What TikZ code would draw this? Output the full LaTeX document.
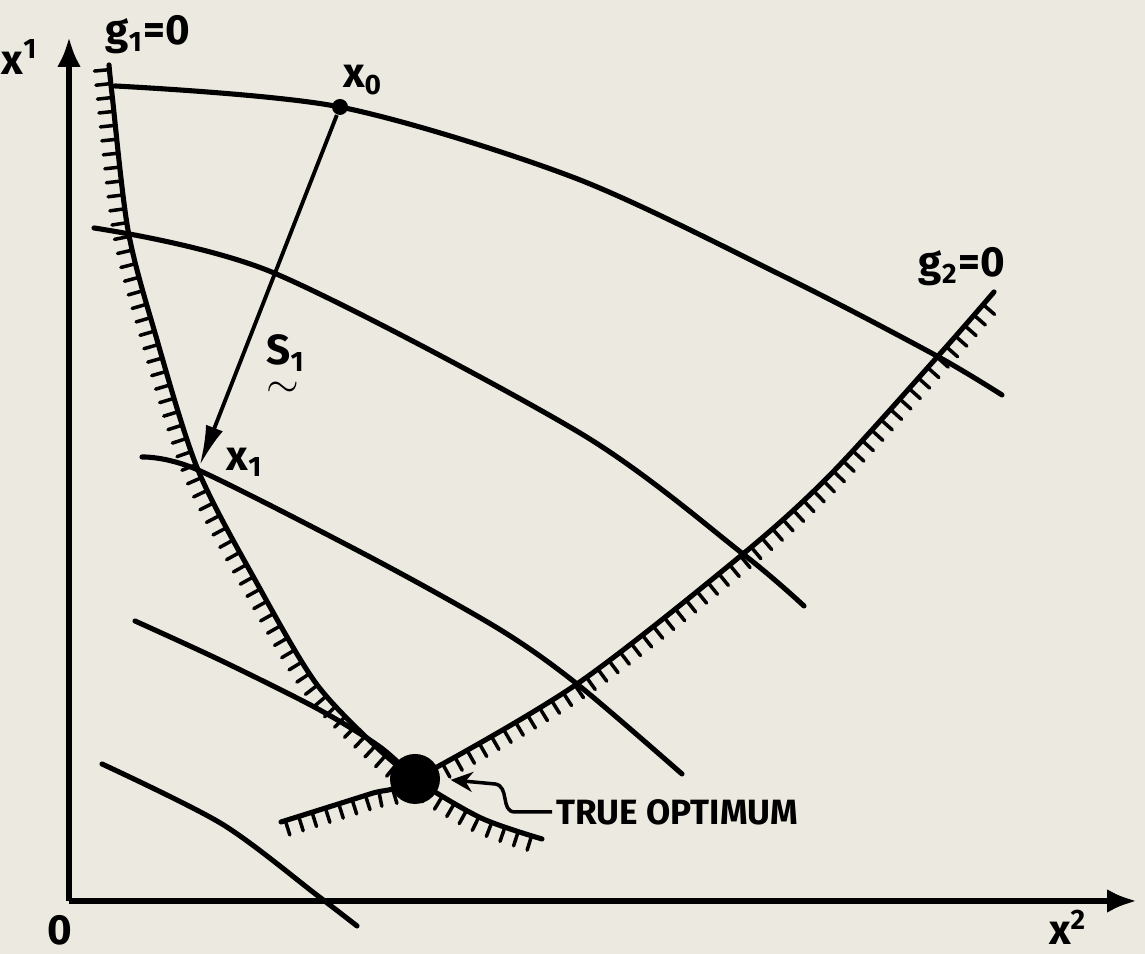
\documentclass[tikz,border=0pt]{standalone}
\usepackage{fontspec}
\setmainfont{Fira Sans}
\usepackage{amsmath}
\usetikzlibrary{arrows.meta,decorations.markings}
\definecolor{paper}{RGB}{236,234,224}
\tikzset{
    axis/.style={line width=1.7pt,-{Latex[length=3mm,width=2.4mm]}},
    level/.style={line width=1.45pt,line cap=round},
    bound/.style={line width=1.45pt,line cap=round,
        postaction={decorate,decoration={markings,
        mark=between positions 0.005 and 0.995 step 1.4mm with {\draw[line width=1pt,line cap=round] (0,0) -- (0,-1.5mm);}}}},
    arr/.style={-{Latex[length=4mm,width=1.8mm]},line width=1.1pt},
    ptr/.style={-{Stealth[length=2.2mm,width=2mm]},line width=1pt},
    lbl/.style={font=\large\bfseries,inner sep=1pt},
    dot/.style={circle,fill=black,minimum size=1.6mm,inner sep=0}
}

\begin{document}
\begin{tikzpicture}
    \useasboundingbox (0,0) rectangle (11.45,9.54);
    \fill[paper] (0,0) rectangle (11.45,9.54);
    % axes
    \coordinate (orig) at (0.69,0.53);
    \coordinate (ytop) at (0.69,9.17);
    \coordinate (xend) at (11.37,0.53);
    \draw[axis] (orig) -- (ytop);
    \draw[axis] (orig) -- (xend);
    \node[lbl] (ylab) at (0.20,8.97) {x\textsuperscript{1}};
    \node[lbl] (xlab) at (10.68,0.27) {x\textsuperscript{2}};
    \node[lbl] (olab) at (0.60,0.24) {0};

    % contours of f
    \draw[level] plot[smooth] coordinates {(1.15,8.68) (3.40,8.47) (5.75,7.76) (7.87,6.76) (9.35,5.99) (10.02,5.59)};
    \draw[level] plot[smooth] coordinates {(0.94,7.26) (2.74,6.81) (5.80,5.21) (7.43,4.00) (8.04,3.48)};
    \draw[level] plot[smooth] coordinates {(1.42,4.97) (1.98,4.84) (3.70,3.97) (4.99,3.25) (5.77,2.70) (6.82,1.80)};
    \draw[level] plot[smooth] coordinates {(1.35,3.33) (2.22,2.93) (3.18,2.45) (3.80,2.07) (4.15,1.75)};
    \draw[level] plot[smooth] coordinates {(1.02,1.90) (2.22,1.30) (3.18,0.58) (3.57,0.28)};

    % constraints
    \draw[bound] plot[smooth] coordinates {(1.09,8.89) (1.12,8.60) (1.28,7.24) (1.55,6.21) (1.98,4.84) (2.59,3.67) (3.15,2.72) (3.70,2.13) (4.15,1.75) (4.81,1.36) (5.42,1.15)};
    \draw[bound] plot[smooth] coordinates {(2.81,1.32) (3.70,1.60) (4.15,1.75) (5.77,2.70) (7.43,4.00) (8.31,4.80) (9.39,5.99) (9.94,6.62)};
    \node[lbl] (g1lab) at (1.48,9.19) {g\textsubscript{1}=0};
    \node[lbl] (g2lab) at (9.62,6.87) {g\textsubscript{2}=0};

    % search step
    \node[dot] (x0) at (3.40,8.47) {};
    \node[lbl] (x0lab) at (3.63,8.74) {x\textsubscript{0}};
    \coordinate (x1) at (1.98,4.84);
    \node[lbl] (x1lab) at (2.45,4.92) {x\textsubscript{1}};
    \draw[arr,shorten >=0.5mm] (x0) -- (x1);
    \node[lbl] (s1lab) at (2.86,5.88) {\makebox[0pt][l]{\raisebox{-1.45ex}{$\sim$}}S\textsubscript{1}};

    % optimum
    \node[circle,fill=black,minimum size=5mm,inner sep=0] (opt) at (4.15,1.75) {};
    \node[lbl,font=\bfseries,anchor=west] (optlab) at (5.52,1.42) {TRUE OPTIMUM};
    \draw[ptr,shorten >=1mm] (optlab.west) -- (5.15,1.42) .. controls (5.0,1.42) and (5.10,1.68) .. (4.95,1.70) -- (opt.east);
\end{tikzpicture}
\end{document}
